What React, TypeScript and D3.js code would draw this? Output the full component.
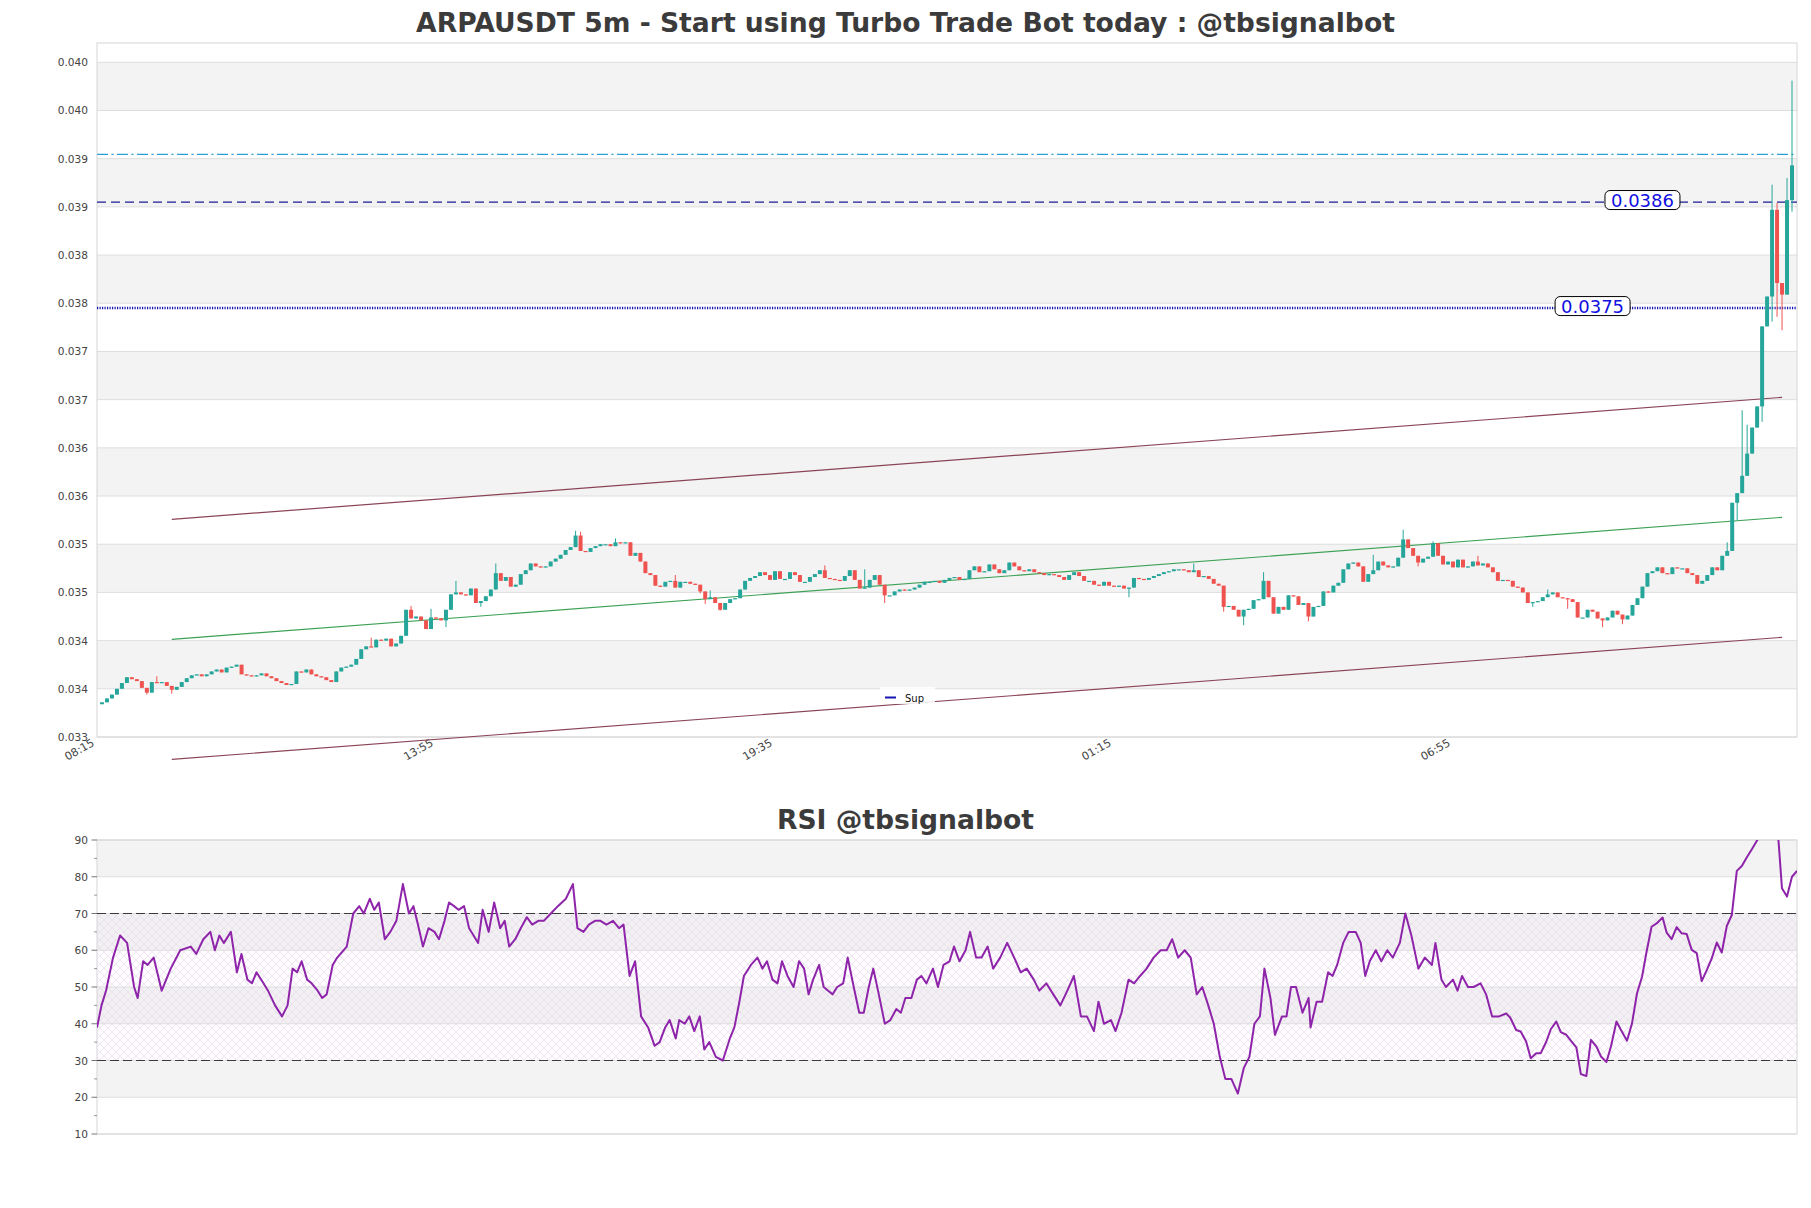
import React from 'react';
import * as d3 from 'd3';

// ---------- DATA ----------
const firstOpen = 0.03339;
const closes = [
  0.03341,0.03345,0.03349,0.03355,0.03361,0.03367,0.03365,0.03363,0.03356,0.03351,
  0.03362,0.03361,0.03362,0.03358,0.03354,0.03357,0.03362,0.03366,0.03369,0.03370,
  0.03368,0.03370,0.03373,0.03375,0.03372,0.03377,0.03378,0.03380,0.03370,0.03369,
  0.03368,0.03369,0.03371,0.03368,0.03366,0.03363,0.03361,0.03359,0.03360,0.03373,
  0.03372,0.03375,0.03370,0.03368,0.03367,0.03364,0.03362,0.03373,0.03377,0.03378,
  0.03380,0.03386,0.03396,0.03399,0.03398,0.03406,0.03405,0.03407,0.03399,0.03402,
  0.03410,0.03437,0.03428,0.03430,0.03426,0.03417,0.03429,0.03428,0.03426,0.03437,
  0.03453,0.03455,0.03453,0.03452,0.03459,0.03444,0.03446,0.03451,0.03458,0.03475,
  0.03467,0.03471,0.03461,0.03463,0.03474,0.03478,0.03485,0.03482,0.03481,0.03482,
  0.03487,0.03490,0.03494,0.03499,0.03502,0.03514,0.03498,0.03497,0.03501,0.03503,
  0.03505,0.03505,0.03503,0.03507,0.03506,0.03507,0.03493,0.03496,0.03487,0.03475,
  0.03473,0.03462,0.03461,0.03466,0.03467,0.03460,0.03466,0.03466,0.03464,0.03463,
  0.03456,0.03448,0.03450,0.03444,0.03437,0.03444,0.03448,0.03449,0.03458,0.03467,
  0.03470,0.03472,0.03476,0.03473,0.03468,0.03477,0.03469,0.03469,0.03476,0.03473,
  0.03466,0.03466,0.03471,0.03474,0.03478,0.03470,0.03469,0.03468,0.03467,0.03472,
  0.03478,0.03468,0.03459,0.03460,0.03468,0.03473,0.03463,0.03452,0.03452,0.03456,
  0.03458,0.03457,0.03458,0.03460,0.03463,0.03466,0.03466,0.03467,0.03465,0.03468,
  0.03470,0.03471,0.03468,0.03469,0.03478,0.03482,0.03476,0.03477,0.03484,0.03479,
  0.03475,0.03478,0.03486,0.03482,0.03478,0.03477,0.03479,0.03476,0.03475,0.03473,
  0.03474,0.03473,0.03471,0.03468,0.03473,0.03476,0.03472,0.03467,0.03467,0.03463,
  0.03462,0.03466,0.03462,0.03461,0.03462,0.03459,0.03460,0.03470,0.03469,0.03468,
  0.03470,0.03472,0.03474,0.03476,0.03477,0.03479,0.03479,0.03478,0.03476,0.03478,
  0.03471,0.03472,0.03469,0.03464,0.03462,0.03440,0.03441,0.03437,0.03430,0.03437,
  0.03438,0.03447,0.03448,0.03467,0.03450,0.03433,0.03440,0.03437,0.03452,0.03451,
  0.03442,0.03444,0.03430,0.03440,0.03441,0.03456,0.03455,0.03462,0.03465,0.03479,
  0.03485,0.03486,0.03482,0.03466,0.03474,0.03478,0.03487,0.03483,0.03481,0.03482,
  0.03491,0.03510,0.03501,0.03493,0.03486,0.03490,0.03492,0.03506,0.03493,0.03484,
  0.03487,0.03481,0.03489,0.03481,0.03482,0.03487,0.03483,0.03485,0.03481,0.03476,
  0.03467,0.03468,0.03467,0.03461,0.03460,0.03455,0.03444,0.03445,0.03446,0.03450,
  0.03453,0.03455,0.03450,0.03449,0.03448,0.03445,0.03429,0.03429,0.03437,0.03435,
  0.03428,0.03426,0.03429,0.03436,0.03432,0.03427,0.03431,0.03442,0.03449,0.03461,
  0.03475,0.03477,0.03481,0.03475,0.03474,0.03481,0.03480,0.03480,0.03475,0.03473,
  0.03464,0.03467,0.03473,0.03481,0.03478,0.03493,0.03498,0.03548,0.03558,0.03576,
  0.03599,0.03626,0.03648,0.03731,0.03762,0.03852,0.03776,0.03764,0.03862,0.03898,
];
const highIdx = [11, 54, 62, 66, 71, 79, 95, 96, 103, 115, 122, 145, 153, 219, 233, 255, 261, 267, 276, 290, 326, 329, 330, 335, 336, 338, 339];
const highVal = [0.03368, 0.03408, 0.03441, 0.03438, 0.03467, 0.03485, 0.03519, 0.03518, 0.03511, 0.03473, 0.03457, 0.03483, 0.03479, 0.03485, 0.03476, 0.03494, 0.03520, 0.03508, 0.03493, 0.03458, 0.03507, 0.03644, 0.03629, 0.03878, 0.03859, 0.03885, 0.03986];
const lowIdx = [9, 14, 69, 76, 120, 121, 124, 157, 206, 225, 229, 242, 264, 287, 294, 301, 305, 328, 333, 335, 336, 337, 339];
const lowVal = [0.03349, 0.03350, 0.03419, 0.03440, 0.03454, 0.03443, 0.03436, 0.03444, 0.03450, 0.03435, 0.03421, 0.03425, 0.03482, 0.03440, 0.03438, 0.03419, 0.03422, 0.03530, 0.03632, 0.03736, 0.03741, 0.03727, 0.03850];

const timeLabels = ['08:15', '13:55', '19:35', '01:15', '06:55'];
const timeLabelIdx = [0, 68, 136, 204, 272];
const priceTicks = [0.03305, 0.03355, 0.03405, 0.03455, 0.03505, 0.03555, 0.03605, 0.03655, 0.03705, 0.03755, 0.03805, 0.03855, 0.03905, 0.03955, 0.04005];

const supLevel = 0.0375;
const resLevel = 0.0386;
const cyanLevel = 0.039094;
const supLabelIdx = 299;
const resLabelIdx = 309;

const channelIdx = [14, 337];
const channelMid = [0.034063, 0.035329];
const channelWidth = 0.001245;

const rsiPos = [0,0.9,1.8,3.2,4.6,6,7.4,8.1,9.2,10.1,11.3,12.9,14.7,16.6,18.7,19.8,21.2,22.6,23.5,24.4,25.3,26.7,27.9,28.8,30,30.9,31.8,33.2,34.1,35.5,36.9,38,39,39.9,40.8,41.9,42.8,44,44.9,45.8,47,47.9,49.8,51.1,52.3,53.2,54.4,55.3,56.2,57.4,58.5,59.7,61,62.2,63.1,64,65,66.1,67.3,68.2,69.3,70.2,71.2,72.1,73.2,74.2,75.1,76,76.9,78.1,79.2,80.4,81.3,82.2,83.4,84.5,85.7,86.8,88,89.1,90.5,91.9,93.5,94.9,95.8,97,98.1,99.3,100.4,101.6,102.9,104.1,105,106.2,107.3,108.5,109.9,111.2,112.2,113.3,114.2,115.4,116.1,117.2,118.1,119.1,120.2,121.1,122.1,123.4,124.8,126.2,127.1,128.1,129,130.4,131.7,132.7,133.6,134.7,135.7,136.6,137.7,138.9,140,141,141.9,142.8,144,144.9,145.8,146.7,147.6,148.8,149.7,150.9,152,152.9,153.9,154.8,155.9,157.1,158.2,159.4,160.3,161.2,162.4,163.5,164.4,165.4,166.7,167.7,168.8,170,170.9,172,173.2,174.1,175.3,176.4,177.6,178.7,180.1,181.5,182.9,184.2,185.4,186.8,187.9,189.3,190.7,192.1,193.5,194.8,196.2,197.4,198.8,199.7,200.8,202.2,203.1,204.3,205.7,206.8,208,209.3,210.7,212.1,213.3,214.4,215.6,216.9,218.1,219.3,220.4,221.6,222.7,223.9,225,226.2,227.5,228.7,229.8,230.8,231.9,232.8,234,234.9,236.3,237.2,238.1,239.1,240.4,241.6,242,243.2,244.3,245.5,246.4,247.3,248.5,249.6,251,252,252.9,253.8,255,256.1,257.3,258.4,259.8,260.9,262.1,263.5,264.8,266.2,266.9,268.1,269,270.4,271.3,272.2,273.4,274.5,275.9,277,278.2,279.6,281,281.8,283,283.9,285,285.9,287,287.9,289,289.9,291,291.9,293,293.9,295,295.9,297,297.9,299,299.9,301,301.9,303,303.9,305.1,306.1,307.1,308.1,309,310,311,312.2,313,314,315,316,317,318,319,320,321,322,323,324,325,326,327,328,329,330,331,332,333,334,335,336,337,338,339];
const rsiVal = [39,45,49,58,64,62,50,47,57,56,58,49,55,60,61,59,63,65,60,64,62,65,54,59,52,51,54,51,49,45,42,45,55,54,57,52,51,49,47,48,56,58,61,70,72,70,74,71,73,63,65,68,78,70,72,67,61,66,65,63,68,73,72,71,72,66,64,62,71,65,73,66,68,61,63,66,69,67,68,68,70,72,74,78,66,65,67,68,68,67,68,66,67,53,57,42,39,34,35,39,41,36,41,40,42,38,42,33,35,31,30,36,39,46,53,56,58,55,57,52,51,57,53,50,57,55,48,52,56,50,49,48,50,51,58,50,43,43,50,55,48,40,41,44,43,47,47,52,53,51,55,50,56,57,61,57,60,65,58,58,61,55,58,62,58,54,55,52,49,51,48,45,49,53,42,42,38,46,40,41,38,43,52,51,53,55,58,60,60,63,58,60,58,48,50,45,40,31,25,25,21,28,31,40,42,55,47,37,42,42,50,50,43,47,39,46,46,54,53,56,62,65,65,62,53,57,60,57,60,58,62,70,64,55,58,56,62,52,50,52,49,53,50,50,51,48,42,42,42.8,41.7,38.3,37.9,35.1,30.6,32,32,35.1,38.5,40.6,37.7,37,35.4,33.6,26.3,25.8,35.6,33.8,31.1,29.6,33.8,40.6,38.3,35.4,40.1,48.3,52.8,59.6,66.4,67.3,68.9,64.8,63,66.3,64.6,64.4,60.1,59.2,51.6,54.6,57.8,62.1,59.4,66.6,69.6,81.6,82.9,85.3,87.5,89.8,92,94,95,95.6,76.9,74.6,80,81.6];
const rsiTicks = [10, 20, 30, 40, 50, 60, 70, 80, 90];
const rsiMinorTicks = [15, 25, 35, 45, 55, 65, 75, 85];
const rsiBands = [[80, 90], [60, 70], [40, 50], [20, 30]];
const rsiLevels = [70, 30];

const mainTitle = 'ARPAUSDT 5m - Start using Turbo Trade Bot today : @tbsignalbot';
const rsiTitle = 'RSI @tbsignalbot';

// ---------- COMPONENT ----------
const FONT = "'DejaVu Sans', Verdana, sans-serif";
const UP = '#26a69a';
const DOWN = '#ef5350';

export default function App() {
  const W = 1811, H = 1208;
  const L = 97, R = 1797;
  const x = d3.scaleLinear().domain([-1, 340]).range([L, R]);
  const y = d3.scaleLinear().domain([0.03305, 0.04025]).range([737, 43]);
  const xr = d3.scaleLinear().domain([0, 339]).range([L, R]);
  const yr = d3.scaleLinear().domain([10, 90]).range([1134, 840]);

  const highMap = new Map(highIdx.map((k, n) => [k, highVal[n]]));
  const lowMap = new Map(lowIdx.map((k, n) => [k, lowVal[n]]));
  const candles = closes.map((c, i) => {
    const o = i === 0 ? firstOpen : closes[i - 1];
    const h = Math.max(o, c, highMap.get(i) ?? 0);
    const l = Math.min(o, c, lowMap.get(i) ?? 1);
    return { i, o, c, h, l };
  });
  const bw = (x(1) - x(0)) * 0.8;

  const rsiLine = d3.line<number>()
    .x((_, k) => xr(rsiPos[k]))
    .y((v) => yr(v));

  const bands: [number, number][] = [];
  for (let k = 1; k + 1 < priceTicks.length; k += 2) bands.push([priceTicks[k], priceTicks[k + 1]]);

  const chan = (off: number) => ({
    x1: x(channelIdx[0]), y1: y(channelMid[0] + off),
    x2: x(channelIdx[1]), y2: y(channelMid[1] + off),
  });
  const up = chan(channelWidth), mid = chan(0), lo = chan(-channelWidth);

  const labelBox = (idx: number, level: number, text: string) => {
    const cx = x(idx);
    const cy = y(level);
    const w = 75, h = 19;
    return (
      <g key={text}>
        <rect x={cx - w / 2} y={cy - h / 2 - 2} width={w} height={h} rx={5} ry={5} fill="#fff" stroke="#000" strokeWidth={1} />
        <text x={cx} y={cy + 4.5} textAnchor="middle" fontSize={18} fill="#1010e0" fontFamily={FONT}>{text}</text>
      </g>
    );
  };

  return (
    <svg width={W} height={H} style={{ position: 'absolute', left: 0, top: 0, display: 'block', background: '#fff' }} fontFamily={FONT}>
      <defs>
        <clipPath id="rsiClip"><rect x={L} y={840} width={R - L} height={294} /></clipPath>
        <clipPath id="mainClip"><rect x={L} y={43} width={R - L} height={694} /></clipPath>
        <pattern id="hatch" width={8} height={8} patternUnits="userSpaceOnUse">
          <path d="M0,0 L8,8 M8,0 L0,8" stroke="#e2d6e8" strokeWidth={0.6} />
        </pattern>
      </defs>
      <rect x={0} y={0} width={W} height={H} fill="#fff" />

      {/* Title */}
      <text x={905.5} y={32} textAnchor="middle" fontSize={26.6} fontWeight="bold" fill="#3b3b3b">{mainTitle}</text>

      {/* Main panel background bands & grid */}
      {bands.map(([a, b], k) => (
        <rect key={'b' + k} x={L} y={y(b)} width={R - L} height={y(a) - y(b)} fill="#f3f3f3" />
      ))}
      {priceTicks.map((t, k) => (
        <line key={'g' + k} x1={L} x2={R} y1={y(t)} y2={y(t)} stroke="#dedede" strokeWidth={1} />
      ))}
      <rect x={L} y={43} width={R - L} height={694} fill="none" stroke="#d6d6d6" strokeWidth={1} />

      {/* Y tick labels */}
      {priceTicks.map((t, k) => (
        <text key={'yt' + k} x={88} y={y(t) + 4} textAnchor="end" fontSize={10.6} fill="#444">{t.toFixed(3)}</text>
      ))}
      {/* X tick labels */}
      {timeLabels.map((s, k) => {
        const px = x(timeLabelIdx[k]) - 7;
        const py = 745;
        return (
          <text key={'xt' + k} x={px} y={py} textAnchor="end" fontSize={11} fill="#444" transform={`rotate(-30 ${px} ${py})`}>{s}</text>
        );
      })}

      {/* Horizontal levels */}
      <line x1={L} x2={R} y1={y(cyanLevel)} y2={y(cyanLevel)} stroke="#2a9fd6" strokeWidth={1.3} strokeDasharray="11,3.5,2,3.5" />
      <line x1={L} x2={R} y1={y(resLevel)} y2={y(resLevel)} stroke="#1c1c96" strokeWidth={1.3} strokeDasharray="9,5" />
      <line x1={L} x2={R} y1={y(supLevel)} y2={y(supLevel)} stroke="#1515b0" strokeWidth={2.4} strokeDasharray="1.2,1.3" />

      {/* Channel */}
      <line {...up} stroke="#8a4456" strokeWidth={1.2} />
      <line {...mid} stroke="#3ba154" strokeWidth={1.2} />
      <line {...lo} stroke="#8a4456" strokeWidth={1.2} />

      {/* Candles */}
      <g clipPath="url(#mainClip)">
        {candles.map((d) => {
          const col = d.c >= d.o ? UP : DOWN;
          const cx = x(d.i);
          const top = y(Math.max(d.o, d.c));
          const bot = y(Math.min(d.o, d.c));
          return (
            <g key={'c' + d.i}>
              <line x1={cx} x2={cx} y1={y(d.h)} y2={y(d.l)} stroke={col} strokeWidth={1} />
              <rect x={cx - bw / 2} y={top} width={bw} height={Math.max(bot - top, 1.2)} fill={col} />
            </g>
          );
        })}
      </g>

      {/* Level labels */}
      {labelBox(resLabelIdx, resLevel, '0.0386')}
      {labelBox(supLabelIdx, supLevel, '0.0375')}

      {/* Legend */}
      <rect x={880} y={687} width={55} height={17} fill="#fff" fillOpacity={0.85} />
      <line x1={885} x2={896} y1={697.5} y2={697.5} stroke="#1515b0" strokeWidth={2} />
      <text x={905} y={701.5} fontSize={10} fill="#111">Sup</text>

      {/* RSI title */}
      <text x={905.5} y={829} textAnchor="middle" fontSize={26.6} fontWeight="bold" fill="#3b3b3b">{rsiTitle}</text>

      {/* RSI panel */}
      {rsiBands.map(([a, b], k) => (
        <rect key={'rb' + k} x={L} y={yr(b)} width={R - L} height={yr(a) - yr(b)} fill="#f3f3f3" />
      ))}
      <rect x={L} y={yr(70)} width={R - L} height={yr(30) - yr(70)} fill="#800080" fillOpacity={0.012} />
      <rect x={L} y={yr(70)} width={R - L} height={yr(30) - yr(70)} fill="url(#hatch)" />
      {rsiTicks.map((t) => (
        <line key={'rg' + t} x1={L} x2={R} y1={yr(t)} y2={yr(t)} stroke="#dedede" strokeWidth={1} />
      ))}
      <rect x={L} y={840} width={R - L} height={294} fill="none" stroke="#d6d6d6" strokeWidth={1} />
      {rsiTicks.map((t) => (
        <g key={'rt' + t}>
          <line x1={L - 5.5} x2={L} y1={yr(t)} y2={yr(t)} stroke="#555" strokeWidth={0.8} />
          <text x={88} y={yr(t) + 4} textAnchor="end" fontSize={10.6} fill="#444">{t}</text>
        </g>
      ))}
      {rsiMinorTicks.map((t) => (
        <line key={'rm' + t} x1={L - 3} x2={L} y1={yr(t)} y2={yr(t)} stroke="#555" strokeWidth={0.6} />
      ))}
      {rsiLevels.map((t) => (
        <line key={'rl' + t} x1={L} x2={R} y1={yr(t)} y2={yr(t)} stroke="#3a3a3a" strokeWidth={1.2} strokeDasharray="9,4" />
      ))}
      <g clipPath="url(#rsiClip)">
        <path d={rsiLine(rsiVal) ?? ''} fill="none" stroke="#8e24aa" strokeWidth={2} strokeLinejoin="round" />
      </g>
    </svg>
  );
}
